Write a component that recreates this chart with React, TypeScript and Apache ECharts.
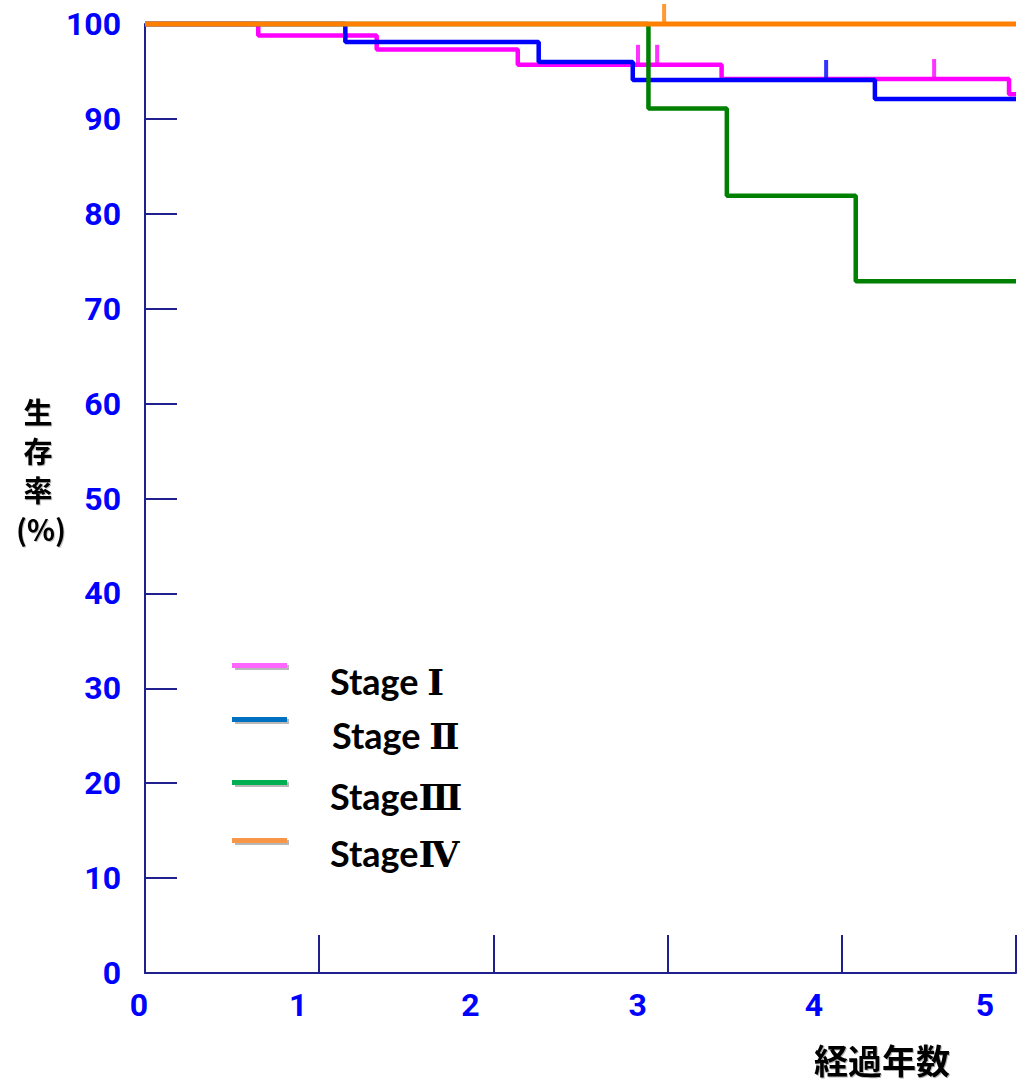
import React, { useEffect, useRef } from "react";
import * as echarts from "echarts";

// ---- Data ----
const stageNames = ["Stage Ⅰ", "Stage Ⅱ", "StageⅢ", "StageⅣ"];
const xTickLabels = ["0", "1", "2", "3", "4", "5"];
const yTickLabels = ["0", "10", "20", "30", "40", "50", "60", "70", "80", "90", "100"];
const yAxisTitle = ["生", "存", "率", "(%)"];
const xAxisTitle = "経過年数";

const stage1Times = [0, 0.65, 1.33, 2.14, 3.31, 4.96, 5];
const stage1Surv = [100, 98.8, 97.3, 95.7, 94.2, 92.6, 92.6];
const stage1Censor = [2.83, 2.94, 4.53];

const stage2Times = [0, 1.15, 2.26, 2.8, 4.19, 5];
const stage2Surv = [100, 98.1, 96.0, 94.1, 92.1, 92.1];
const stage2Censor = [3.91];

const stage3Times = [0, 2.89, 3.34, 4.08, 5];
const stage3Surv = [100, 91.1, 81.9, 72.9, 72.9];
const stage3Censor: number[] = [];

const stage4Times = [0, 5];
const stage4Surv = [100, 100];
const stage4Censor = [2.98];

const lineColors = ["#ff00ff", "#0000ff", "#008000", "#ff8000"];
const legendColors = ["#ff66ff", "#0070c0", "#00b050", "#f79646"];

function survAt(times: number[], surv: number[], t: number): number {
  let s = surv[0];
  for (let i = 0; i < times.length; i++) {
    if (times[i] <= t) s = surv[i];
  }
  return s;
}

const curves = [
  { times: stage1Times, surv: stage1Surv, censor: stage1Censor },
  { times: stage2Times, surv: stage2Surv, censor: stage2Censor },
  { times: stage3Times, surv: stage3Surv, censor: stage3Censor },
  { times: stage4Times, surv: stage4Surv, censor: stage4Censor },
];

const labelFont = "Roboto, sans-serif";
const labelSize = 32;
const xLabelShift = [12, 42, 46, 60, 56, 62];

export default function App() {
  const ref = useRef<HTMLDivElement>(null);

  useEffect(() => {
    if (!ref.current) return;
    const chart = echarts.init(ref.current, undefined, { renderer: "svg" });

    const lineSeries = curves.map((c, i) => ({
      type: "line",
      name: stageNames[i],
      step: "end",
      clip: false,
      showSymbol: false,
      symbol: "none",
      silent: true,
      z: 2 + i,
      lineStyle: { color: lineColors[i], width: i === 3 ? 5 : 4.5 },
      data: c.times.map((t, k) => [t, c.surv[k]]),
    }));

    const censorSeries = curves.map((c, i) => ({
      type: "scatter",
      name: stageNames[i] + " censor",
      clip: false,
      silent: true,
      symbol: "rect",
      symbolSize: [4, 20],
      symbolOffset: [0, -10],
      z: 2 + i,
      itemStyle: { color: lineColors[i] },
      data: c.censor.map((t) => [t, survAt(c.times, c.surv, t)]),
    }));

    const rich: Record<string, any> = {};
    xTickLabels.forEach((_, i) => {
      rich["s" + i] = {
        fontFamily: labelFont,
        fontWeight: "bold",
        fontSize: labelSize,
        color: "#0000ff",
        padding: [0, xLabelShift[i], 0, 0],
      };
    });

    const legendLineY = [666, 720, 783, 841];
    const legendTextY = [681, 735, 796, 853];
    const legendTextX = [330, 332, 330, 330];

    const graphic: any[] = [];
    stageNames.forEach((name, i) => {
      graphic.push({
        type: "rect",
        shape: { x: 235, y: legendLineY[i] - 1, width: 54, height: 5 },
        style: { fill: "rgba(0,0,0,0.28)" },
        silent: true,
        z: 10,
      });
      graphic.push({
        type: "rect",
        shape: { x: 232, y: legendLineY[i] - 3, width: 55, height: 5 },
        style: { fill: legendColors[i] },
        silent: true,
        z: 11,
      });
      graphic.push({
        type: "text",
        x: legendTextX[i],
        y: legendTextY[i],
        style: {
          text: name,
          fill: "#000",
          font: "bold 36px Lato, 'DejaVu Serif', 'Noto Sans CJK JP', sans-serif",
          align: "left",
          verticalAlign: "middle",
        },
        silent: true,
        z: 11,
      });
    });
    const yTitleY = [411, 450, 489, 528];
    yAxisTitle.forEach((ch, i) => {
      graphic.push({
        type: "text",
        x: i === 3 ? 41 : 38,
        y: yTitleY[i],
        style: {
          text: ch,
          fill: "#000",
          font: "bold 29px 'Noto Sans CJK JP', sans-serif",
          align: "center",
          verticalAlign: "middle",
          textShadowColor: "rgba(0,0,0,0.25)",
          textShadowOffsetX: 1,
          textShadowOffsetY: 1,
          textShadowBlur: 1,
        },
        silent: true,
      });
    });
    graphic.push({
      type: "text",
      x: 882,
      y: 1059,
      style: {
        text: xAxisTitle,
        fill: "#000",
        font: "bold 34px 'Noto Sans CJK JP', sans-serif",
        align: "center",
        verticalAlign: "middle",
        textShadowColor: "rgba(0,0,0,0.3)",
        textShadowOffsetX: 1,
        textShadowOffsetY: 1,
        textShadowBlur: 1,
      },
      silent: true,
    });

    const axisColor = "#1f1f8f";

    chart.setOption({
      animation: false,
      backgroundColor: "#ffffff",
      grid: { left: 145, top: 24, width: 871, height: 949, containLabel: false },
      xAxis: {
        type: "value",
        min: 0,
        max: 5,
        interval: 1,
        splitLine: { show: false },
        axisLine: { show: true, onZero: false, lineStyle: { color: axisColor, width: 2 } },
        axisTick: { show: true, inside: true, length: 38, lineStyle: { color: axisColor, width: 2 } },
        axisLabel: {
          margin: 16,
          showMaxLabel: true,
          showMinLabel: true,
          formatter: (v: number) => {
            const idx = Math.round(v);
            return "{s" + idx + "|" + xTickLabels[idx] + "}";
          },
          rich,
        },
      },
      yAxis: {
        type: "value",
        min: 0,
        max: 100,
        interval: 10,
        splitLine: { show: false },
        axisLine: { show: true, onZero: false, lineStyle: { color: axisColor, width: 2 } },
        axisTick: { show: true, inside: true, length: 32, lineStyle: { color: axisColor, width: 2 } },
        axisLabel: {
          margin: 24,
          color: "#0000ff",
          fontFamily: labelFont,
          fontWeight: "bold",
          fontSize: labelSize,
          formatter: (v: number) => yTickLabels[Math.round(v / 10)],
        },
      },
      series: [...lineSeries, ...censorSeries],
      graphic,
    });

    return () => chart.dispose();
  }, []);

  return (
    <div
      ref={ref}
      style={{ position: "absolute", left: 0, top: 0, width: 1017, height: 1085, background: "#fff" }}
    />
  );
}
